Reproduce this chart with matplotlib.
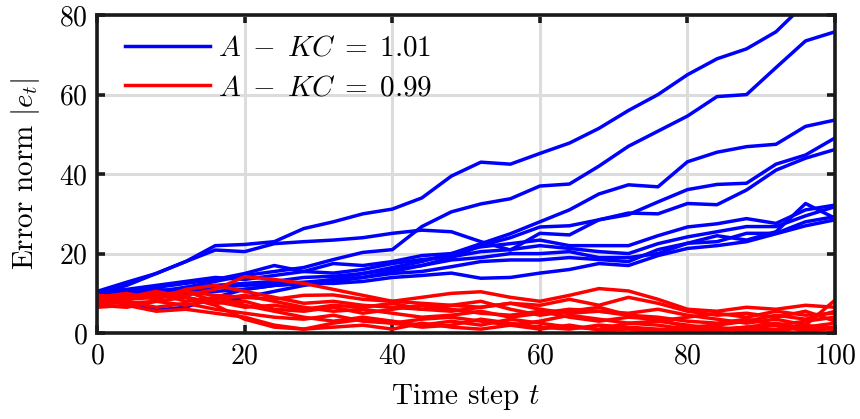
import numpy as np
import matplotlib
matplotlib.use("Agg")
import matplotlib.pyplot as plt

plt.rcParams["font.family"] = "serif"
plt.rcParams["font.serif"] = ["cmr10"]
plt.rcParams["mathtext.fontset"] = "cm"
plt.rcParams["axes.formatter.use_mathtext"] = True

t = [0, 4, 8, 12, 16, 20, 24, 28, 32, 36, 40, 44, 48, 52, 56, 60, 64, 68, 72, 76, 80, 84, 88, 92, 96, 100]

# A - KC = 1.01 (unstable error runs)
blue_runs = [
    [10.5, 12.8, 15.0, 18.0, 22.0, 22.3, 23.0, 26.3, 28.0, 30.0, 31.2, 34.0, 39.5, 43.0, 42.5, 45.2, 47.8, 51.5, 56.0, 60.0, 65.0, 69.0, 71.5, 75.8, 83.0, 88.0],
    [9.0, 9.8, 10.5, 11.5, 13.0, 14.5, 15.5, 16.5, 18.5, 20.3, 21.0, 26.8, 30.5, 32.5, 33.8, 37.0, 37.5, 42.0, 47.0, 50.8, 54.6, 59.5, 60.0, 66.8, 73.5, 75.8],
    [9.0, 8.0, 5.8, 6.5, 9.0, 11.0, 12.0, 12.5, 13.5, 15.0, 16.5, 18.0, 20.0, 22.5, 25.0, 28.0, 31.0, 35.0, 37.3, 36.8, 43.1, 45.5, 46.9, 47.5, 52.0, 53.6],
    [8.5, 9.0, 10.0, 9.0, 7.5, 9.0, 10.5, 12.0, 13.0, 14.0, 15.5, 17.0, 19.0, 22.0, 24.0, 26.7, 27.0, 28.5, 29.8, 33.0, 36.1, 37.4, 37.7, 42.5, 44.8, 49.1],
    [10.0, 12.0, 15.0, 18.0, 20.9, 20.5, 22.5, 23.0, 23.4, 24.0, 25.1, 25.9, 25.5, 23.0, 20.9, 25.1, 24.7, 28.5, 30.2, 30.0, 32.6, 32.3, 36.0, 41.0, 44.0, 46.2],
    [9.5, 10.5, 11.5, 12.5, 13.5, 15.0, 17.0, 15.5, 17.5, 17.0, 18.0, 19.5, 20.0, 21.7, 22.5, 23.4, 22.0, 22.0, 22.0, 24.5, 26.7, 27.5, 28.8, 27.6, 31.0, 32.2],
    [10.5, 11.0, 12.0, 13.0, 14.0, 13.5, 14.5, 15.5, 15.1, 16.0, 17.5, 18.5, 19.2, 20.5, 21.0, 22.0, 21.3, 20.5, 20.0, 22.5, 24.2, 25.5, 26.8, 26.8, 29.5, 31.8],
    [8.5, 9.5, 10.0, 11.5, 12.0, 12.5, 13.0, 14.0, 14.3, 15.0, 16.0, 17.0, 18.4, 19.0, 20.0, 20.0, 20.5, 19.0, 19.0, 20.0, 22.6, 23.0, 25.1, 25.1, 28.0, 29.3],
    [9.0, 10.0, 11.0, 10.5, 11.5, 12.0, 12.5, 12.8, 13.4, 14.0, 15.0, 15.5, 16.7, 18.0, 18.4, 18.4, 19.0, 18.5, 18.0, 21.0, 22.6, 24.5, 23.4, 25.5, 32.6, 28.9],
    [8.0, 9.0, 9.5, 10.0, 10.5, 11.0, 12.0, 12.5, 12.5, 13.0, 14.0, 14.5, 15.1, 13.8, 14.0, 15.1, 16.0, 17.5, 17.0, 19.5, 21.3, 22.0, 23.0, 25.0, 27.0, 28.5],
]

# A - KC = 0.99 (stable error runs)
red_runs = [
    [8.0, 8.5, 9.0, 9.5, 11.0, 14.2, 13.5, 12.5, 11.0, 9.5, 8.0, 7.5, 7.0, 6.5, 7.5, 6.0, 5.0, 5.5, 4.5, 4.0, 3.0, 2.5, 3.5, 2.0, 3.0, 4.0],
    [7.5, 8.5, 9.5, 10.5, 9.5, 9.0, 8.5, 9.5, 9.6, 8.5, 8.0, 9.0, 10.0, 10.4, 9.0, 8.0, 9.5, 11.2, 10.6, 8.5, 6.0, 5.5, 6.5, 6.0, 7.0, 6.5],
    [9.0, 10.0, 8.5, 11.0, 12.0, 10.5, 9.0, 7.5, 8.0, 7.0, 6.5, 6.0, 5.5, 6.5, 7.5, 7.0, 8.5, 7.0, 9.0, 7.5, 5.5, 4.5, 5.0, 4.0, 5.5, 3.0],
    [8.5, 7.5, 8.0, 7.0, 8.5, 9.5, 8.0, 6.5, 5.5, 6.0, 5.0, 4.0, 4.5, 5.5, 4.0, 5.0, 6.0, 5.5, 5.0, 6.0, 4.5, 3.5, 2.5, 3.5, 2.0, 8.3],
    [7.0, 8.0, 6.5, 7.5, 6.0, 5.0, 4.0, 3.5, 4.5, 3.0, 2.5, 3.5, 4.0, 3.0, 2.0, 3.0, 4.5, 3.5, 2.5, 3.0, 2.0, 1.0, 1.5, 2.5, 1.0, 1.5],
    [9.5, 9.0, 10.5, 9.0, 7.5, 8.0, 6.0, 5.5, 6.5, 5.0, 6.0, 7.0, 6.0, 5.0, 4.5, 5.5, 4.0, 3.0, 4.0, 3.5, 1.5, 2.0, 3.0, 4.5, 3.5, 5.5],
    [6.5, 7.0, 5.5, 6.0, 5.0, 4.0, 2.0, 1.0, 2.5, 3.5, 2.5, 1.5, 2.0, 3.5, 2.5, 1.5, 1.0, 2.0, 1.5, 1.0, 0.5, 1.5, 0.5, 1.0, 2.0, 0.8],
    [8.0, 9.0, 10.0, 8.0, 9.0, 7.0, 5.5, 4.0, 3.0, 4.0, 3.0, 2.0, 3.0, 2.0, 3.5, 2.5, 1.5, 1.0, 2.5, 2.0, 1.0, 0.5, 1.5, 0.5, 1.5, 2.5],
    [7.0, 6.5, 8.0, 9.0, 7.0, 3.5, 1.5, 1.0, 1.5, 2.0, 1.0, 2.5, 1.5, 1.0, 2.0, 1.0, 2.0, 0.8, 1.0, 0.5, 1.5, 0.8, 1.0, 2.0, 0.5, 1.2],
    [8.5, 9.5, 9.0, 10.5, 8.0, 6.5, 7.0, 6.0, 7.0, 6.5, 7.5, 6.0, 7.0, 8.0, 6.0, 4.5, 5.5, 6.5, 4.5, 3.0, 4.0, 5.0, 4.0, 5.5, 4.5, 5.0],
]

fig = plt.figure(figsize=(8.6, 4.19), dpi=100)
ax = fig.add_axes([0.113, 0.205, 0.858, 0.759])

for i, run in enumerate(blue_runs):
    ax.plot(t, run, color="#0000ff", lw=2.5, label=r"$A\;-\;KC\;=\;1.01$" if i == 0 else None)
for i, run in enumerate(red_runs):
    ax.plot(t, run, color="#ff0000", lw=2.5, label=r"$A\;-\;KC\;=\;0.99$" if i == 0 else None)

ax.set_xlim(0, 100)
ax.set_ylim(0, 80)
ax.set_xticks([0, 20, 40, 60, 80, 100])
ax.set_yticks([0, 20, 40, 60, 80])
ax.grid(True, color="#dcdcdc", lw=2.2)
ax.set_axisbelow(True)
for s in ax.spines.values():
    s.set_linewidth(2.6)
    s.set_color("#1a1a1a")
ax.tick_params(direction="in", top=True, right=True, length=6, width=2.6,
               color="#1a1a1a", labelsize=20, pad=7)

ax.set_xlabel(r"Time step $t$", fontsize=21, labelpad=9)
ax.set_ylabel(r"Error norm $|e_t|$", fontsize=21, labelpad=12)

ax.legend(loc="upper left", frameon=False, fontsize=21, handlelength=2.9,
          handletextpad=0.3, borderaxespad=0.3, labelspacing=0.45,
          bbox_to_anchor=(0.01, 1.0))

fig.savefig("out.png", dpi=100)
